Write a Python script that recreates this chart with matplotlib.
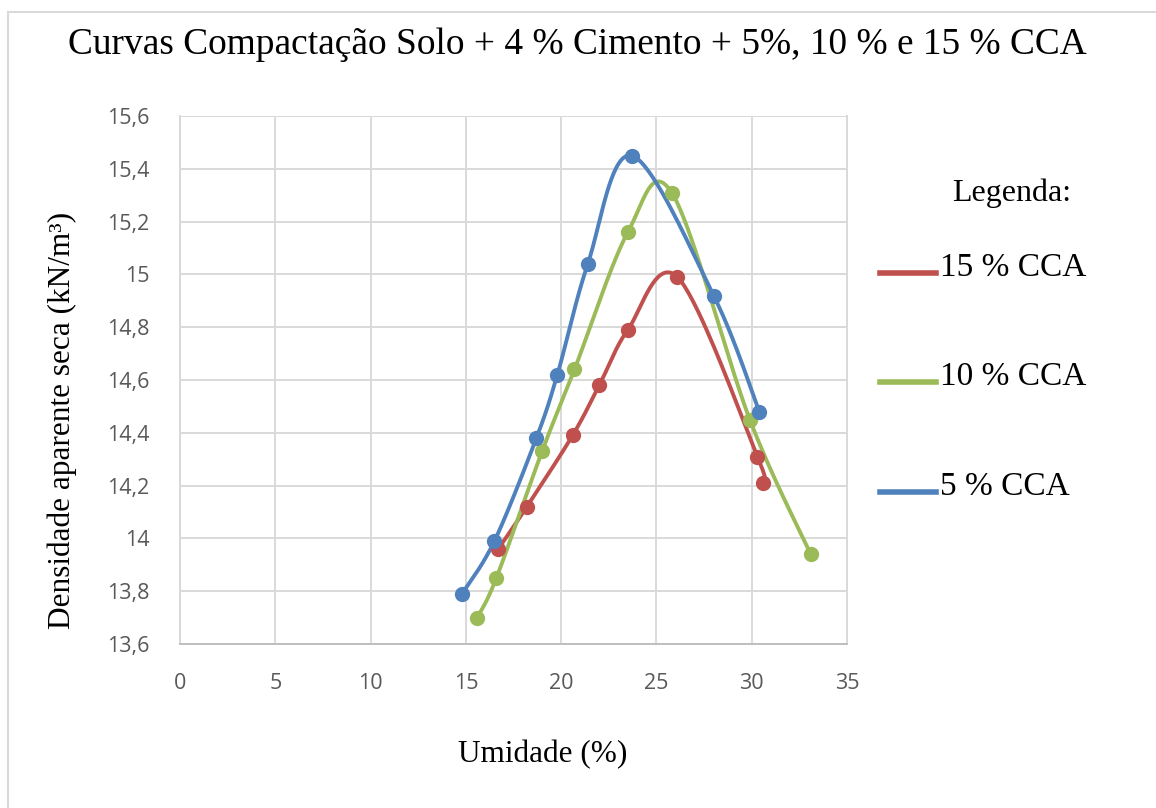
import numpy as np
import matplotlib
matplotlib.use("Agg")
import matplotlib.pyplot as plt
from matplotlib.patches import Rectangle
from matplotlib.lines import Line2D

# ---- data ----
x_5 = [14.8, 16.5, 18.7, 19.8, 21.4, 23.7, 28.0, 30.4]
y_5 = [13.79, 13.99, 14.38, 14.62, 15.04, 15.45, 14.92, 14.48]
x_10 = [15.6, 16.6, 19.0, 20.7, 23.5, 25.8, 29.9, 33.1]
y_10 = [13.70, 13.85, 14.33, 14.64, 15.16, 15.31, 14.45, 13.94]
x_15 = [16.7, 18.2, 20.6, 22.0, 23.5, 26.1, 30.3, 30.6]
y_15 = [13.96, 14.12, 14.39, 14.58, 14.79, 14.99, 14.31, 14.21]
series_labels = ["15 % CCA", "10 % CCA", "5 % CCA"]
x_ticks = [0, 5, 10, 15, 20, 25, 30, 35]
y_ticks = [13.6, 13.8, 14.0, 14.2, 14.4, 14.6, 14.8, 15.0, 15.2, 15.4, 15.6]
y_tick_labels = ["13,6", "13,8", "14", "14,2", "14,4", "14,6", "14,8", "15", "15,2", "15,4", "15,6"]

c_red = "#C0504D"
c_green = "#9BBB59"
c_blue = "#4F81BD"

W, H = 1156, 808
fig = plt.figure(figsize=(W / 100, H / 100), dpi=100)
fig.patch.set_facecolor("white")
fig.patches.append(Rectangle((8 / W, -0.05), 1.2, 1 - 12 / H + 0.05, transform=fig.transFigure,
                             fill=False, edgecolor="#D9D9D9", linewidth=1.5))

ax = fig.add_axes([180 / W, 1 - 644 / H, (847 - 180) / W, (644 - 116) / H])
ax.set_xlim(0, 35)
ax.set_ylim(13.6, 15.6)


def excel_smooth(xs, ys, n=40):
    # Bezier smoothing in axes-normalized space (Excel-like)
    px = (np.array(xs) - 0) / 35.0 * 667
    py = (np.array(ys) - 13.6) / 2.0 * 528
    P = np.column_stack([px, py])
    out = [P[0]]
    k = len(P)
    for i in range(k - 1):
        p0 = P[i - 1] if i > 0 else P[i]
        p1 = P[i]
        p2 = P[i + 1]
        p3 = P[i + 2] if i + 2 < k else P[i + 1]
        c1 = p1 + (p2 - p0) / 6.0
        c2 = p2 - (p3 - p1) / 6.0
        t = np.linspace(0, 1, n)[1:, None]
        seg = ((1 - t) ** 3) * p1 + 3 * ((1 - t) ** 2) * t * c1 + 3 * (1 - t) * t ** 2 * c2 + t ** 3 * p2
        out.extend(seg)
    out = np.array(out)
    return out[:, 0] / 667 * 35.0, out[:, 1] / 528 * 2.0 + 13.6


for xs, ys, c in [(x_15, y_15, c_red), (x_10, y_10, c_green), (x_5, y_5, c_blue)]:
    sx, sy = excel_smooth(xs, ys)
    ax.plot(sx, sy, color=c, lw=2.8, solid_capstyle="round", zorder=3)
    ax.plot(xs, ys, "o", color=c, ms=11, zorder=4, markeredgewidth=0)

ax.set_xticks(x_ticks)
ax.set_yticks(y_ticks)
ax.set_yticklabels(y_tick_labels)
ax.grid(True, color="#D9D9D9", linewidth=1.4)
ax.set_axisbelow(True)
ax.spines["top"].set_visible(False)
for s in ["left", "bottom", "right"]:
    ax.spines[s].set_color("#D9D9D9")
    ax.spines[s].set_linewidth(1.4)
ax.spines["bottom"].set_color("#BFBFBF")
ax.tick_params(axis="y", length=0, labelsize=15.5, labelcolor="#595959", pad=22)
ax.tick_params(axis="x", length=0, labelsize=15.5, labelcolor="#595959", pad=21)
for lab in ax.get_xticklabels() + ax.get_yticklabels():
    lab.set_fontfamily("Open Sans")

serif = "Liberation Serif"
fig.text(577 / W, 1 - 45 / H, "Curvas Compactação Solo + 4 % Cimento + 5%, 10 % e 15 % CCA",
         ha="center", va="center", fontsize=26.9, family=serif)
fig.text(543 / W, 1 - 755 / H, "Umidade (%)", ha="center", va="center", fontsize=22.5, family=serif)
fig.text(62 / W, 1 - 420 / H, "Densidade aparente seca (kN/m³)", ha="center", va="center",
         rotation=90, fontsize=22.5, family=serif)

fig.text(1012 / W, 1 - 193 / H, "Legenda:", ha="center", va="center", fontsize=23, family=serif)
for lab, c, yy in zip(series_labels, [c_red, c_green, c_blue], [268, 377, 487]):
    fig.lines.append(Line2D([880 / W, 936 / W], [1 - (yy + 5) / H] * 2, transform=fig.transFigure,
                            color=c, lw=4))
    fig.text(940 / W, 1 - yy / H, lab, ha="left", va="center", fontsize=24, family=serif)

fig.savefig("out.png", dpi=100)
